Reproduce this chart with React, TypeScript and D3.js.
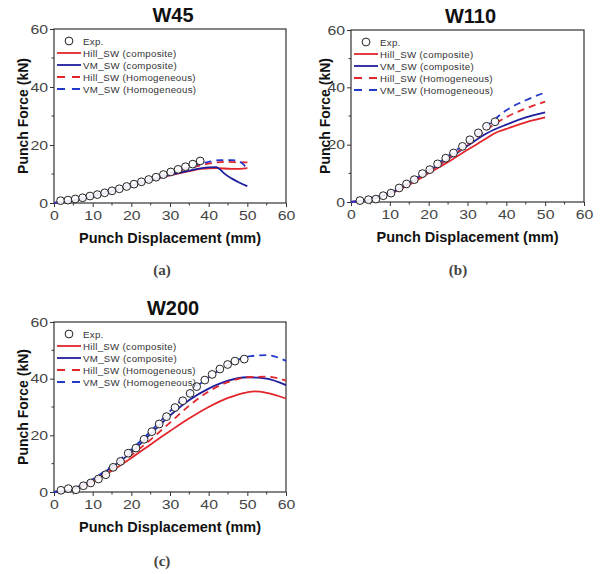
import React, { useRef, useEffect } from 'react';
import * as d3 from 'd3';

// axis ticks and legend text
const xTicks = [0, 10, 20, 30, 40, 50, 60];
const yTicks = [0, 20, 40, 60];
const legendLabels = ['Exp.', 'Hill_SW (composite)', 'VM_SW (composite)', 'Hill_SW (Homogeneous)', 'VM_SW (Homogeneous)'];

// W45 (displacement mm, force kN)
const w45Exp = [[1.7, 0.8], [3.6, 1.0], [5.5, 1.4], [7.4, 1.8], [9.3, 2.4], [11.2, 2.9], [13.1, 3.5], [15.0, 4.2], [16.9, 4.9], [18.8, 5.7], [20.7, 6.5], [22.6, 7.3], [24.5, 8.1], [26.4, 8.9], [28.3, 9.8], [30.2, 10.7], [32.1, 11.6], [34.0, 12.5], [35.9, 13.4], [37.8, 14.5]];
const w45HillComp = [[0, 0], [5, 0.9], [10, 2.3], [15, 4.0], [20, 5.9], [25, 7.8], [30, 9.5], [35, 11.0], [38, 11.8], [42, 12.0], [46, 11.8], [48, 11.8], [50, 12.0]];
const w45VmComp = [[0, 0], [5, 0.9], [10, 2.3], [15, 4.1], [20, 6.0], [25, 7.9], [30, 9.7], [35, 11.2], [40, 12.3], [42, 12.4], [43, 11.5], [44, 10.2], [46, 8.4], [48, 7.0], [50, 5.8]];
const w45HillHomo = [[0, 0], [5, 1.0], [10, 2.5], [15, 4.3], [20, 6.3], [25, 8.3], [30, 10.2], [35, 12.0], [40, 13.6], [42, 14.0], [45, 14.2], [48, 14.0], [50, 14.0]];
const w45VmHomo = [[0, 0], [5, 1.0], [10, 2.5], [15, 4.4], [20, 6.4], [25, 8.4], [30, 10.4], [35, 12.4], [40, 14.2], [43, 14.8], [46, 14.8], [48, 14.3], [49, 13.3], [50, 11.5]];

// W110
const w110Exp = [[2.3, 0.5], [4.5, 0.8], [6.4, 1.0], [8.3, 2.2], [10.3, 3.1], [12.4, 4.9], [14.3, 6.3], [16.3, 7.8], [18.4, 9.9], [20.3, 11.3], [22.3, 13.3], [24.4, 15.3], [26.4, 17.1], [28.7, 19.4], [30.6, 21.7], [32.8, 24.1], [34.9, 26.4], [37.1, 28.0]];
const w110HillComp = [[0, 0], [5, 0.8], [10, 2.8], [15, 6.0], [20, 10.0], [25, 14.0], [30, 18.2], [35, 22.3], [37, 24.0], [40, 25.5], [45, 27.8], [50, 29.5]];
const w110VmComp = [[0, 0], [5, 0.9], [10, 3.1], [15, 6.5], [20, 10.7], [25, 15.0], [30, 19.6], [35, 24.0], [40, 27.0], [45, 29.5], [50, 31.3]];
const w110HillHomo = [[0, 0], [5, 0.9], [10, 3.0], [15, 6.3], [20, 10.5], [25, 15.2], [30, 20.0], [35, 25.3], [40, 29.6], [45, 32.6], [50, 35.0]];
const w110VmHomo = [[0, 0], [5, 1.0], [10, 3.3], [15, 6.8], [20, 11.2], [25, 16.0], [30, 21.0], [35, 26.5], [40, 32.0], [45, 35.5], [50, 38.2]];

// W200
const w200Exp = [[1.8, 0.6], [3.7, 1.2], [5.7, 0.8], [7.6, 2.2], [9.5, 3.2], [11.5, 4.6], [13.4, 6.1], [15.3, 8.7], [17.2, 10.8], [19.2, 13.7], [21.2, 15.5], [23.3, 18.6], [25.3, 21.3], [27.2, 24.0], [29.1, 26.6], [31.3, 29.8], [33.3, 32.2], [35.2, 34.8], [36.9, 37.2], [39.0, 39.5], [40.9, 41.5], [42.9, 43.4], [44.9, 45.0], [46.8, 46.2], [49.2, 46.9]];
const w200HillComp = [[0, 0], [5, 1.0], [10, 3.6], [15, 7.5], [20, 12.0], [25, 16.8], [30, 21.5], [35, 26.0], [40, 30.0], [45, 33.2], [50, 35.2], [52, 35.5], [55, 35.0], [60, 33.0]];
const w200VmComp = [[0, 0], [5, 1.2], [10, 4.3], [15, 8.8], [20, 14.0], [25, 20.5], [30, 27.0], [35, 32.5], [40, 36.5], [45, 39.3], [50, 40.5], [55, 40.0], [60, 37.7]];
const w200HillHomo = [[0, 0], [5, 1.0], [10, 3.8], [15, 8.0], [20, 13.0], [25, 18.5], [30, 24.5], [35, 30.5], [40, 35.5], [45, 38.8], [50, 40.5], [55, 40.7], [60, 39.3]];
const w200VmHomo = [[0, 0], [5, 1.2], [10, 4.5], [15, 9.3], [20, 15.0], [25, 21.5], [30, 28.5], [35, 35.0], [40, 40.5], [45, 44.8], [50, 47.8], [55, 48.3], [60, 46.3]];

const RED = '#e2262b';
const NAVY = '#1f1f9e';
const BLUE = '#2438cc';
const SANS = 'Liberation Sans, Arial, sans-serif';

const panels = [
  { title: 'W45', tag: '(a)', box: { l: 54, t: 29, r: 286, b: 203 }, tagX: 162, tagY: 275, yLabX: 23,
    exp: w45Exp, lines: [w45HillComp, w45VmComp, w45HillHomo, w45VmHomo] },
  { title: 'W110', tag: '(b)', box: { l: 351, t: 30, r: 584, b: 202 }, tagX: 458, tagY: 275, yLabX: 325,
    exp: w110Exp, lines: [w110HillComp, w110VmComp, w110HillHomo, w110VmHomo] },
  { title: 'W200', tag: '(c)', box: { l: 54, t: 322, r: 286, b: 492 }, tagX: 162, tagY: 566, yLabX: 23,
    exp: w200Exp, lines: [w200HillComp, w200VmComp, w200HillHomo, w200VmHomo] },
];

const lineStyles = [
  { color: RED, dash: null },
  { color: NAVY, dash: null },
  { color: RED, dash: '7,5' },
  { color: BLUE, dash: '7,5' },
];

const App = () => {
  const svgRef = useRef(null);

  useEffect(() => {
    const svg = d3.select(svgRef.current);
    svg.selectAll('*').remove();
    svg.append('rect').attr('width', 600).attr('height', 574).attr('fill', '#fff');

    panels.forEach(p => {
      const { l, t, r, b } = p.box;
      const x = d3.scaleLinear().domain([0, 60]).range([l, r]);
      const y = d3.scaleLinear().domain([0, 60]).range([b, t]);
      const g = svg.append('g');

      // minor ticks
      d3.range(5, 60, 10).forEach(v => {
        g.append('line').attr('x1', x(v)).attr('x2', x(v)).attr('y1', b).attr('y2', b + 2.5)
          .attr('stroke', '#333').attr('stroke-width', 1);
      });
      d3.range(10, 60, 20).forEach(v => {
        g.append('line').attr('x1', l).attr('x2', l - 2.5).attr('y1', y(v)).attr('y2', y(v))
          .attr('stroke', '#333').attr('stroke-width', 1);
      });

      // x axis (labels are drawn a bit wide, like the source figure)
      const xa = g.append('g').attr('transform', `translate(0,${b})`)
        .call(d3.axisBottom(x).tickValues(xTicks).tickSize(4).tickSizeOuter(0).tickPadding(3));
      xa.select('.domain').remove();
      xa.selectAll('line').attr('stroke', '#333');
      xa.selectAll('text').attr('font-family', SANS).attr('font-size', 13.5).attr('fill', '#444')
        .attr('textLength', d => String(d).length * 8.8).attr('lengthAdjust', 'spacingAndGlyphs');

      // y axis
      const ya = g.append('g').attr('transform', `translate(${l},0)`)
        .call(d3.axisLeft(y).tickValues(yTicks).tickSize(4).tickSizeOuter(0).tickPadding(2));
      ya.select('.domain').remove();
      ya.selectAll('line').attr('stroke', '#333');
      ya.selectAll('text').attr('font-family', SANS).attr('font-size', 13.5).attr('fill', '#444')
        .attr('textLength', d => String(d).length * 8.8).attr('lengthAdjust', 'spacingAndGlyphs');

      // frame
      g.append('rect').attr('x', l).attr('y', t).attr('width', r - l).attr('height', b - t)
        .attr('fill', 'none').attr('stroke', '#333').attr('stroke-width', 1.2);

      // curves
      const line = d3.line().x(d => x(d[0])).y(d => y(d[1])).curve(d3.curveMonotoneX);
      p.lines.forEach((data, i) => {
        const st = lineStyles[i];
        g.append('path').datum(data).attr('d', line).attr('fill', 'none')
          .attr('stroke', st.color).attr('stroke-width', 1.8)
          .attr('stroke-dasharray', st.dash);
      });

      // experiment circles
      g.selectAll('circle.exp').data(p.exp).join('circle').attr('class', 'exp')
        .attr('cx', d => x(d[0])).attr('cy', d => y(d[1])).attr('r', 3.9)
        .attr('fill', '#fff').attr('fill-opacity', 0.9).attr('stroke', '#222').attr('stroke-width', 1);

      // legend
      const lg = g.append('g').attr('transform', `translate(${l},${t})`);
      legendLabels.forEach((lab, i) => {
        const ry = 12 + i * 12;
        if (i === 0) {
          lg.append('circle').attr('cx', 15).attr('cy', ry).attr('r', 3.9)
            .attr('fill', '#fff').attr('stroke', '#222').attr('stroke-width', 1);
        } else {
          const st = lineStyles[i - 1];
          lg.append('line').attr('x1', 3).attr('x2', 27).attr('y1', ry).attr('y2', ry)
            .attr('stroke', st.color).attr('stroke-width', 1.8)
            .attr('stroke-dasharray', st.dash ? '8,7' : null);
        }
        lg.append('text').attr('x', 29).attr('y', ry + 3.5)
          .attr('font-family', SANS).attr('font-size', 9.7)
          .attr('letter-spacing', 0.3).attr('fill', '#333').text(lab);
      });

      // titles
      g.append('text').attr('x', (l + r) / 2 + 3).attr('y', t - 7).attr('text-anchor', 'middle')
        .attr('font-family', SANS).attr('font-weight', 'bold')
        .attr('font-size', 20).attr('fill', '#111').text(p.title);
      g.append('text').attr('x', (l + r) / 2).attr('y', b + 40).attr('text-anchor', 'middle')
        .attr('font-family', SANS).attr('font-weight', 'bold')
        .attr('font-size', 14).attr('fill', '#111')
        .attr('textLength', 182).attr('lengthAdjust', 'spacingAndGlyphs')
        .text('Punch Displacement (mm)');
      g.append('text').attr('transform', `translate(${p.yLabX + 5},${(t + b) / 2}) rotate(-90)`)
        .attr('text-anchor', 'middle')
        .attr('font-family', SANS).attr('font-weight', 'bold')
        .attr('font-size', 14).attr('fill', '#111').text('Punch Force (kN)');
      g.append('text').attr('x', p.tagX).attr('y', p.tagY).attr('text-anchor', 'middle')
        .attr('font-family', 'Liberation Serif, Times New Roman, serif').attr('font-weight', 'bold')
        .attr('font-size', 15).attr('fill', '#444').text(p.tag);
    });
  }, []);

  return (
    <svg ref={svgRef} width={600} height={574}
      style={{ position: 'absolute', left: 0, top: 0, display: 'block' }} />
  );
};

export default App;
